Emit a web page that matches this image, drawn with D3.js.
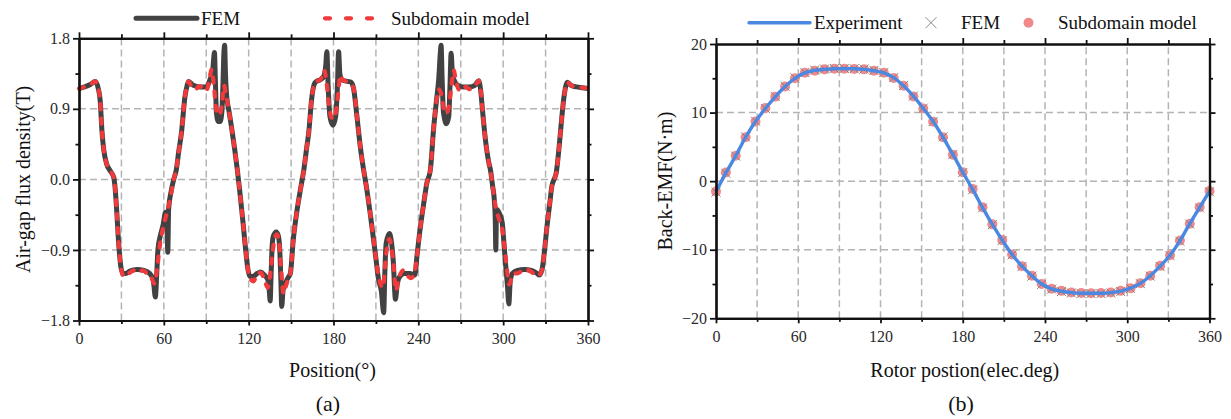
<!DOCTYPE html>
<html>
<head>
<meta charset="utf-8">
<script src="https://cdn.jsdelivr.net/npm/d3@7"></script>
<style>
  body { margin: 0; background: #fff; }
  svg { display: block; }
  text { font-family: "Liberation Serif", "Times New Roman", serif; }
</style>
</head>
<body>
<svg id="chart" width="1231" height="419"></svg>
<script>
// ---------- (a) air-gap flux density, T ----------
const fluxFemAngle = [0,4,8,11.5,13.5,15,16.3,17.5,19.5,22,24.5,25.5,26.5,28,29.5,31,33,36,41,46,50,52.5,54,55,55.8,57.5,59.5,61.2,62.2,62.8,63.4,65.3,67,68.8,70.5,72.5,74.9,76.5,77.5,80.8,85.5,90.2,92.6,94.5,95.3,95.8,96.4,97.2,98.5,99.8,101,101.8,102.5,103,103.6,104.5,106,108,110,112,114,116,118,119.5,121,123,126,128.5,131,133.5,134.5,135.2,135.9,136.6,137.5,139.5,141,142,142.8,143.4,144.3,146,148,149.5,151.5,154,156.5,159,161,162.5,164.5,166.5,168,170.6,173,174.5,175.3,176.2,177.5,179.6,181.5,182.8,183.6,184.5,186,190,192.5,194.2,196.6,199,201.3,203.5,206,209.6,212,213.8,215.5,216.3,217.2,219.5,221,222.3,223.8,225,226.5,230,234,237.5,239.2,241.5,243.8,246,248.5,250.9,252.8,254.5,255.5,256.1,256.8,257.8,259.9,261.5,262.4,263.2,264,265.2,268,272,276,280,282.6,284,285.2,287.5,290,291,292.5,293.8,294.4,294.8,295.3,297,299.3,300.5,301.7,303,304,305,306.5,310,315,320,324,325.5,327.5,329,331,333,334.5,336,337.5,339.5,341,343,345.4,348,352,356,360];
const fluxFemValue = [1.16,1.18,1.21,1.25,1.17,1.0,0.6,0.38,0.2,0.11,0.03,-0.1,-0.35,-0.8,-1.1,-1.2,-1.2,-1.17,-1.15,-1.16,-1.2,-1.28,-1.5,-1.2,-0.9,-0.72,-0.58,-0.42,-0.6,-0.93,-0.38,-0.14,0.0,0.12,0.35,0.6,1.05,1.2,1.25,1.2,1.18,1.18,1.27,1.38,1.55,1.62,1.3,0.85,0.74,0.74,0.85,1.2,1.62,1.71,1.35,1.05,0.88,0.65,0.4,0.12,-0.2,-0.55,-0.92,-1.15,-1.24,-1.24,-1.2,-1.18,-1.22,-1.28,-1.4,-1.55,-1.2,-0.85,-0.72,-0.67,-0.72,-0.9,-1.3,-1.62,-1.42,-1.32,-1.25,-1.2,-0.78,-0.42,-0.14,0.12,0.4,0.6,1.02,1.22,1.25,1.27,1.31,1.45,1.63,1.2,0.8,0.69,0.8,1.2,1.63,1.35,1.27,1.25,1.24,1.16,0.8,0.41,0.12,-0.12,-0.44,-0.95,-1.29,-1.42,-1.7,-1.2,-0.82,-0.69,-0.8,-1.05,-1.53,-1.35,-1.25,-1.2,-1.2,-1.22,-0.95,-0.6,-0.31,-0.05,0.12,0.67,1.0,1.3,1.6,1.71,1.3,0.85,0.71,0.8,1.2,1.61,1.38,1.27,1.2,1.18,1.18,1.2,1.26,1.15,0.92,0.5,0.2,0.12,-0.08,-0.28,-0.5,-0.9,-0.38,-0.42,-0.55,-0.8,-1.08,-1.35,-1.59,-1.3,-1.2,-1.16,-1.15,-1.16,-1.2,-1.22,-1.15,-0.95,-0.6,-0.3,-0.08,0.0,0.08,0.4,0.7,1.05,1.24,1.2,1.18,1.17,1.16];

const fluxSubAngle = [0,4,8,11.5,13.5,15,16.3,17.5,19.5,22,24.5,25.5,26.5,28,29.5,31,33,36,39,42,45,48,51,53.5,55.5,57.5,59.5,61.5,64.3,67,68.8,70.5,72.5,74.9,76.5,77.5,80,82.5,85,88,90,92,93.8,95.3,96.8,98.3,100,101.3,102.5,104,106,108,110,112,114,116,118,119.5,121,123.5,126,128.5,131,133.5,135,136.5,138.3,140,141.6,143,144.6,146.5,148,149.5,151.5,154,156.5,159,161,162.5,164.5,166.5,168,170.6,172,173.4,174.8,176.5,178.3,180,181.7,183.3,184.8,186.2,190,193,194.5,196.6,199,201.3,203.5,206,209.6,212,213.5,215,216.5,218,219.5,221,222.5,224.2,225.7,227.5,229.5,232,234.5,237,239.2,241.5,243.8,246,248.5,250.9,252.8,254.3,256,258,259.8,261.5,263.5,265,266.5,268.5,271,273.5,276,278.5,281,282.6,284,285.2,287.5,290,291,292.8,295,297,299.3,301.5,303,304.3,305.8,307.5,310,313,316,320,324,325.5,327.5,329,331,333,334.5,336,337.5,339.5,341,343,345.4,348,352,356,360];
const fluxSubValue = [1.16,1.18,1.21,1.25,1.17,1.0,0.6,0.38,0.2,0.11,0.03,-0.1,-0.35,-0.8,-1.1,-1.22,-1.24,-1.19,-1.16,-1.19,-1.16,-1.2,-1.25,-1.33,-1.1,-0.8,-0.62,-0.47,-0.27,0.0,0.12,0.35,0.6,1.05,1.2,1.25,1.17,1.15,1.19,1.16,1.13,1.25,1.4,1.22,0.92,0.82,0.85,1.0,1.2,1.08,0.88,0.65,0.4,0.12,-0.2,-0.55,-0.92,-1.15,-1.26,-1.3,-1.2,-1.19,-1.27,-1.38,-1.25,-1.0,-0.76,-0.7,-0.82,-1.15,-1.46,-1.35,-1.27,-1.2,-0.78,-0.42,-0.14,0.12,0.4,0.6,1.02,1.22,1.25,1.27,1.32,1.39,1.28,1.0,0.8,0.77,0.86,1.1,1.33,1.28,1.24,1.2,1.14,0.8,0.41,0.12,-0.12,-0.44,-0.95,-1.25,-1.35,-1.38,-1.1,-0.85,-0.76,-0.86,-1.1,-1.42,-1.3,-1.2,-1.16,-1.22,-1.26,-1.22,-0.95,-0.6,-0.31,-0.05,0.12,0.67,1.0,1.15,1.1,0.9,0.84,0.92,1.2,1.39,1.27,1.15,1.13,1.18,1.15,1.17,1.22,1.26,1.15,0.92,0.5,0.2,0.12,-0.12,-0.38,-0.5,-0.63,-0.95,-1.2,-1.34,-1.27,-1.2,-1.2,-1.17,-1.15,-1.18,-1.23,-1.22,-1.15,-0.95,-0.6,-0.3,-0.08,0.0,0.08,0.4,0.7,1.05,1.24,1.2,1.18,1.17,1.16];

const fluxTicks = [-1.8, -0.9, 0, 0.9, 1.8];
const fluxMinorTicks = [-1.35, -0.45, 0.45, 1.35];
const fluxGrid = [-0.9, 0, 0.9];

// ---------- (b) back-EMF ----------
const emfAngle = [0,7.2,14.4,21.6,28.8,36,43.2,50.4,57.6,64.8,72,79.2,86.4,93.6,100.8,108,115.2,122.4,129.6,136.8,144,151.2,158.4,165.6,172.8,180,187.2,194.4,201.6,208.8,216,223.2,230.4,237.6,244.8,252,259.2,266.4,273.6,280.8,288,295.2,302.4,309.6,316.8,324,331.2,338.4,345.6,352.8,360];
const emfExperiment = [-1.55,1.2,3.7,6.4,8.7,10.6,12.3,13.8,15.0,15.8,16.15,16.3,16.4,16.4,16.4,16.3,16.1,15.8,15.1,13.9,12.4,10.6,8.7,6.4,3.9,1.3,-1.2,-3.85,-6.3,-8.6,-10.7,-12.4,-13.8,-15.0,-15.7,-16.05,-16.25,-16.35,-16.35,-16.35,-16.25,-16.05,-15.6,-14.9,-13.8,-12.4,-10.8,-8.7,-6.2,-3.85,-1.5];
const emfFem = [-1.6,1.15,3.65,6.45,8.75,10.6,12.35,13.85,15.05,15.85,16.2,16.35,16.45,16.45,16.4,16.35,16.15,15.85,15.1,13.95,12.4,10.65,8.7,6.45,3.9,1.25,-1.25,-3.9,-6.35,-8.65,-10.75,-12.45,-13.85,-15.05,-15.75,-16.1,-16.3,-16.4,-16.4,-16.4,-16.3,-16.1,-15.65,-14.95,-13.85,-12.45,-10.85,-8.75,-6.25,-3.9,-1.55];
const emfSubdomain = [-1.5,1.25,3.7,6.4,8.7,10.65,12.3,13.8,15.0,15.8,16.1,16.3,16.4,16.4,16.35,16.3,16.1,15.8,15.05,13.9,12.35,10.6,8.65,6.4,3.85,1.3,-1.15,-3.8,-6.3,-8.6,-10.7,-12.4,-13.8,-15.0,-15.7,-16.0,-16.25,-16.3,-16.35,-16.3,-16.25,-16.0,-15.6,-14.9,-13.8,-12.35,-10.8,-8.65,-6.2,-3.8,-1.45];

const emfTicks = [-20, -10, 0, 10, 20];
const emfMinorTicks = [-15, -5, 5, 15];
const emfGrid = [-10, 0, 10];

const angleTicks = [0, 60, 120, 180, 240, 300, 360];
const angleMinorTicks = [30, 90, 150, 210, 270, 330];
const angleGrid = [30, 60, 90, 120, 150, 180, 210, 240, 270, 300, 330];

const svg = d3.select("#chart");

function styleAxis(sel, showText) {
  sel.select(".domain").attr("stroke", "#111").attr("stroke-width", 2.2);
  sel.selectAll(".tick line").attr("stroke", "#111").attr("stroke-width", 1.8);
  sel.selectAll(".tick text")
    .attr("font-family", "Liberation Serif, Times New Roman, serif")
    .attr("font-size", 16).attr("fill", "#2a2a2a");
  if (!showText) sel.selectAll(".tick text").remove();
}

function drawPanel(p) {
  const x = d3.scaleLinear().domain([0, 360]).range(p.xRange);
  const y = d3.scaleLinear().domain(p.yDomain).range(p.yRange);
  const g = svg.append("g");
  const [x0, x1] = p.xRange;
  const [yb, yt] = p.yRange;

  // dashed grid
  const grid = g.append("g").attr("stroke", "#b4b4b4").attr("stroke-width", 1.5)
    .attr("stroke-dasharray", "7,4");
  grid.selectAll("line.v").data(angleGrid).join("line").attr("class", "v")
    .attr("x1", d => x(d)).attr("x2", d => x(d)).attr("y1", yb).attr("y2", yt);
  grid.selectAll("line.h").data(p.grid).join("line").attr("class", "h")
    .attr("x1", x0).attr("x2", x1).attr("y1", d => y(d)).attr("y2", d => y(d));

  const marks = g.append("g");

  // axes on all four sides
  const fmt = d3.format(p.format);
  const bottom = g.append("g").attr("transform", `translate(0,${yb})`);
  bottom.append("g").call(d3.axisBottom(x).tickValues(angleMinorTicks).tickSize(3.5).tickSizeOuter(0).tickFormat(""))
    .call(s => styleAxis(s, false));
  bottom.append("g").call(d3.axisBottom(x).tickValues(angleTicks).tickSize(5).tickSizeOuter(0).tickPadding(7).tickFormat(d3.format("d")))
    .call(s => styleAxis(s, true));

  const top = g.append("g").attr("transform", `translate(0,${yt})`);
  top.append("g").call(d3.axisTop(x).tickValues(angleMinorTicks).tickSize(4).tickSizeOuter(0).tickFormat(""))
    .call(s => styleAxis(s, false));
  top.append("g").call(d3.axisTop(x).tickValues(angleTicks).tickSize(6).tickSizeOuter(0).tickFormat(""))
    .call(s => styleAxis(s, false));

  const left = g.append("g").attr("transform", `translate(${x0},0)`);
  left.append("g").call(d3.axisLeft(y).tickValues(p.minorTicks).tickSize(3.5).tickSizeOuter(0).tickFormat(""))
    .call(s => styleAxis(s, false));
  left.append("g").call(d3.axisLeft(y).tickValues(p.ticks).tickSize(6).tickSizeOuter(0).tickPadding(3).tickFormat(fmt))
    .call(s => styleAxis(s, true));

  const right = g.append("g").attr("transform", `translate(${x1},0)`);
  right.append("g").call(d3.axisRight(y).tickValues(p.minorTicks).tickSize(3.5).tickSizeOuter(0).tickFormat(""))
    .call(s => styleAxis(s, false));
  right.append("g").call(d3.axisRight(y).tickValues(p.ticks).tickSize(6).tickSizeOuter(0).tickFormat(""))
    .call(s => styleAxis(s, false));

  // titles
  g.append("text").attr("x", (x0 + x1) / 2 + p.xTitleShift).attr("y", p.xTitleY)
    .attr("text-anchor", "middle").attr("font-size", 20).attr("fill", "#111").text(p.xTitle);
  g.append("text").attr("transform", `translate(${p.yTitleX},${(yb + yt) / 2}) rotate(-90)`)
    .attr("text-anchor", "middle").attr("dominant-baseline", "central")
    .attr("font-size", 20).attr("fill", "#111").text(p.yTitle);
  g.append("text").attr("x", p.tagX).attr("y", 411).attr("text-anchor", "middle")
    .attr("font-size", 22).attr("fill", "#111").text(p.tag);

  return { x, y, marks };
}

// ---------------- panel (a) ----------------
const A = drawPanel({
  xRange: [79, 588], yRange: [320.5, 38.3], yDomain: [-1.8, 1.8],
  ticks: fluxTicks, minorTicks: fluxMinorTicks, grid: fluxGrid, format: ".1f",
  xTitle: "Position(°)", xTitleY: 377, xTitleShift: -1,
  yTitle: "Air-gap flux density(T)", yTitleX: 23,
  tag: "(a)", tagX: 328
});

const femPts = fluxFemAngle.map((a, i) => [a, fluxFemValue[i]]);
const subPts = fluxSubAngle.map((a, i) => [a, fluxSubValue[i]]);
const fluxLine = d3.line().x(d => A.x(d[0])).y(d => A.y(d[1])).curve(d3.curveMonotoneX);

A.marks.append("path").datum(femPts).attr("d", fluxLine)
  .attr("fill", "none").attr("stroke", "#424242").attr("stroke-width", 5)
  .attr("stroke-linejoin", "round");
A.marks.append("path").datum(subPts).attr("d", fluxLine)
  .attr("fill", "none").attr("stroke", "#f03a3c").attr("stroke-width", 4.2)
  .attr("stroke-dasharray", "5,9").attr("stroke-linecap", "round");

// legend (a)
const legA = svg.append("g");
legA.append("line").attr("x1", 136).attr("x2", 197).attr("y1", 18.3).attr("y2", 18.3)
  .attr("stroke", "#424242").attr("stroke-width", 5).attr("stroke-linecap", "round");
legA.append("text").attr("x", 201).attr("y", 25).attr("font-size", 19).attr("fill", "#111").text("FEM");
legA.append("line").attr("x1", 325).attr("x2", 378).attr("y1", 18.3).attr("y2", 18.3)
  .attr("stroke", "#f03a3c").attr("stroke-width", 4.2)
  .attr("stroke-dasharray", "5,16").attr("stroke-linecap", "round");
legA.append("text").attr("x", 391).attr("y", 25).attr("font-size", 19).attr("fill", "#111").text("Subdomain model");

// ---------------- panel (b) ----------------
const B = drawPanel({
  xRange: [716, 1209.5], yRange: [318.3, 44], yDomain: [-20, 20],
  ticks: emfTicks, minorTicks: emfMinorTicks, grid: emfGrid, format: "d",
  xTitle: "Rotor postion(elec.deg)", xTitleY: 377, xTitleShift: 2,
  yTitle: "Back-EMF(N·m)", yTitleX: 665,
  tag: "(b)", tagX: 961
});

const expPts = emfAngle.map((a, i) => [a, emfExperiment[i]]);
const femEmfPts = emfAngle.map((a, i) => [a, emfFem[i]]);
const subEmfPts = emfAngle.map((a, i) => [a, emfSubdomain[i]]);

B.marks.selectAll("circle").data(subEmfPts).join("circle")
  .attr("cx", d => B.x(d[0])).attr("cy", d => B.y(d[1])).attr("r", 5)
  .attr("fill", "#f08a8a");
const crossPath = s => `M${-s},${-s}L${s},${s}M${-s},${s}L${s},${-s}`;
B.marks.selectAll("path.cross").data(femEmfPts).join("path").attr("class", "cross")
  .attr("transform", d => `translate(${B.x(d[0])},${B.y(d[1])})`)
  .attr("d", crossPath(4.5)).attr("stroke", "#808080").attr("stroke-width", 1).attr("fill", "none");
B.marks.append("path").datum(expPts)
  .attr("d", d3.line().x(d => B.x(d[0])).y(d => B.y(d[1])).curve(d3.curveCatmullRom.alpha(0.5)))
  .attr("fill", "none").attr("stroke", "#4a88e2").attr("stroke-width", 3.4);

// legend (b)
const legB = svg.append("g");
legB.append("line").attr("x1", 749).attr("x2", 810).attr("y1", 22.7).attr("y2", 22.7)
  .attr("stroke", "#4a88e2").attr("stroke-width", 3.4).attr("stroke-linecap", "round");
legB.append("text").attr("x", 814).attr("y", 29.3).attr("font-size", 19).attr("fill", "#111").text("Experiment");
legB.append("path").attr("transform", "translate(931,22.7)").attr("d", crossPath(5.5))
  .attr("stroke", "#8a8a8a").attr("stroke-width", 1).attr("fill", "none");
legB.append("text").attr("x", 961).attr("y", 29.3).attr("font-size", 19).attr("fill", "#111").text("FEM");
legB.append("circle").attr("cx", 1028.5).attr("cy", 22.7).attr("r", 5).attr("fill", "#f08a8a");
legB.append("text").attr("x", 1058).attr("y", 29.3).attr("font-size", 19).attr("fill", "#111").text("Subdomain model");
</script>
</body>
</html>
